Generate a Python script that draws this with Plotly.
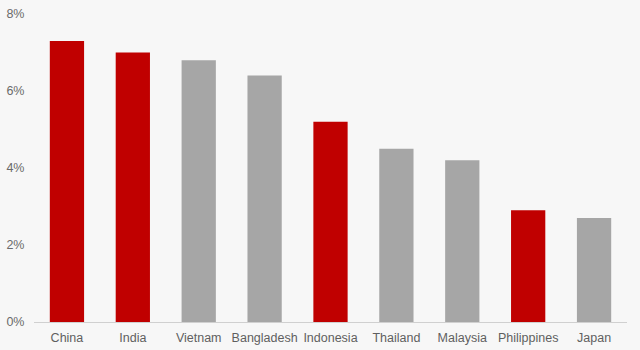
import plotly.graph_objects as go

countries = ["China", "India", "Vietnam", "Bangladesh", "Indonesia", "Thailand", "Malaysia", "Philippines", "Japan"]
values = [7.3, 7.0, 6.8, 6.4, 5.2, 4.5, 4.2, 2.9, 2.7]
highlight = [True, True, False, False, True, False, False, True, False]
y_ticks = [0, 2, 4, 6, 8]
y_tick_labels = ["0%", "2%", "4%", "6%", "8%"]

RED = "#c00000"
GRAY = "#a6a6a6"
colors = [RED if h else GRAY for h in highlight]

fig = go.Figure(go.Bar(x=countries, y=values, marker=dict(color=colors, line=dict(width=0)), width=0.52))

fig.update_layout(
    width=640, height=350,
    margin=dict(l=34, r=13, t=14, b=28),
    paper_bgcolor="#f7f7f7", plot_bgcolor="#f7f7f7",
    font=dict(family="Liberation Sans, Arial, sans-serif", size=12.5, color="#666666"),
    showlegend=False,
)
fig.update_xaxes(showline=True, linecolor="#d0d0d0", linewidth=1, showgrid=False, automargin=False,
                 ticks="outside", ticklen=4, tickcolor="rgba(0,0,0,0)", tickfont=dict(color="#5f5f5f"))
fig.update_yaxes(range=[0, 8], tickvals=y_ticks, ticktext=y_tick_labels, showgrid=False, zeroline=False,
                 showline=False, ticks="outside", ticklen=6, tickcolor="rgba(0,0,0,0)", automargin=False,
                 tickfont=dict(color="#6a6a6a"))

fig.write_html("out.html")
